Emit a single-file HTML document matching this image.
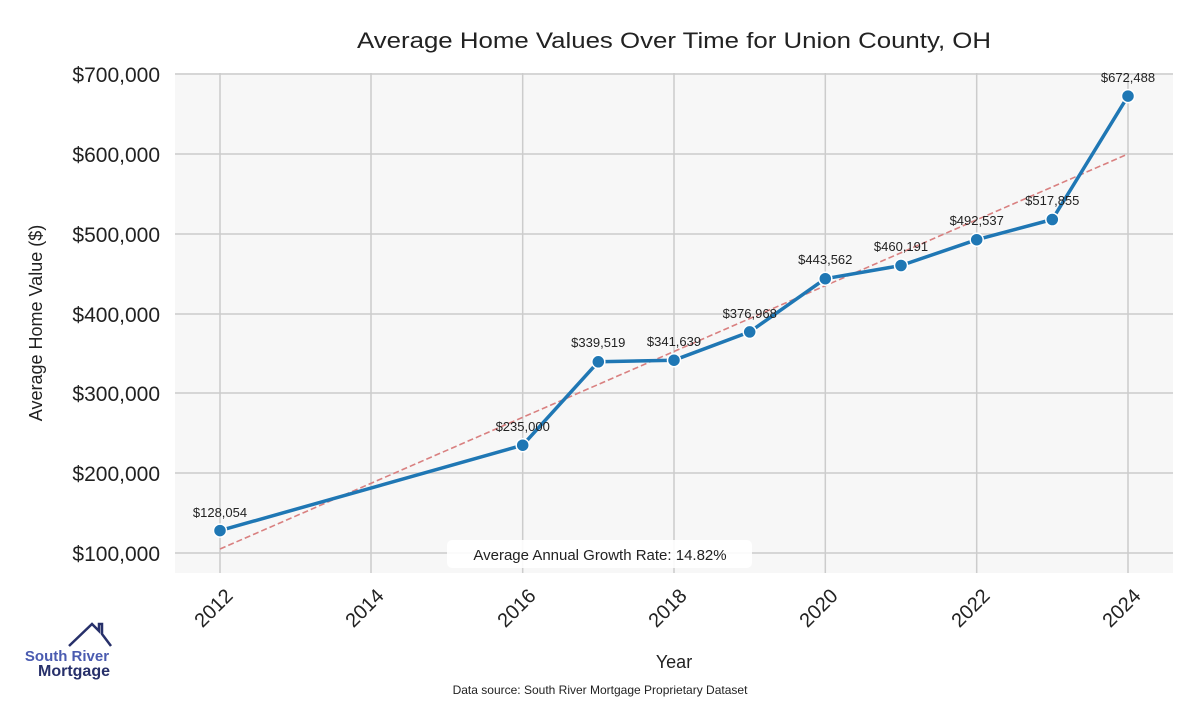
<!DOCTYPE html>
<html><head><meta charset="utf-8"><style>
body{margin:0;background:#fff;}
svg text{font-family:"Liberation Sans",sans-serif;}
</style></head><body>
<svg width="1200" height="700" xmlns="http://www.w3.org/2000/svg">
<rect x="175" y="73" width="998" height="500" fill="#f7f7f7"/>
<g stroke="#cccccc" stroke-width="1.5">
<line x1="175" x2="1173" y1="74" y2="74"/>
<line x1="175" x2="1173" y1="154" y2="154"/>
<line x1="175" x2="1173" y1="234" y2="234"/>
<line x1="175" x2="1173" y1="314" y2="314"/>
<line x1="175" x2="1173" y1="393" y2="393"/>
<line x1="175" x2="1173" y1="473" y2="473"/>
<line x1="175" x2="1173" y1="553" y2="553"/>
<line x1="220" x2="220" y1="73" y2="573"/>
<line x1="371" x2="371" y1="73" y2="573"/>
<line x1="522.7" x2="522.7" y1="73" y2="573"/>
<line x1="674" x2="674" y1="73" y2="573"/>
<line x1="825.3" x2="825.3" y1="73" y2="573"/>
<line x1="976.7" x2="976.7" y1="73" y2="573"/>
<line x1="1128" x2="1128" y1="73" y2="573"/>
</g>
<text x="674" y="48" text-anchor="middle" font-size="22" fill="#222" textLength="634" lengthAdjust="spacingAndGlyphs">Average Home Values Over Time for Union County, OH</text>
<g font-size="21" fill="#222" text-anchor="end">
<text x="160" y="82">$700,000</text>
<text x="160" y="162">$600,000</text>
<text x="160" y="242">$500,000</text>
<text x="160" y="322">$400,000</text>
<text x="160" y="401">$300,000</text>
<text x="160" y="481">$200,000</text>
<text x="160" y="561">$100,000</text>
</g>
<text transform="translate(42,323) rotate(-90)" text-anchor="middle" font-size="18" fill="#222">Average Home Value ($)</text>
<g font-size="20" fill="#222" text-anchor="end">
<text transform="translate(234,597) rotate(-45)">2012</text>
<text transform="translate(385,597) rotate(-45)">2014</text>
<text transform="translate(537,597) rotate(-45)">2016</text>
<text transform="translate(688,597) rotate(-45)">2018</text>
<text transform="translate(839,597) rotate(-45)">2020</text>
<text transform="translate(991,597) rotate(-45)">2022</text>
<text transform="translate(1142,597) rotate(-45)">2024</text>
</g>
<text x="674" y="668" text-anchor="middle" font-size="18" fill="#222">Year</text>
<text x="600" y="694" text-anchor="middle" font-size="12" fill="#222">Data source: South River Mortgage Proprietary Dataset</text>
<line x1="220" y1="549" x2="1128" y2="154" stroke="#d98080" stroke-width="1.6" stroke-dasharray="6,3"/>
<polyline fill="none" stroke="#1f77b4" stroke-width="3.5" stroke-linejoin="round" points="220,530.6 522.7,445.2 598.3,361.8 674,360.2 749.7,331.9 825.3,278.7 901,265.5 976.7,239.7 1052.3,219.5 1128,96.1"/>
<g fill="#1f77b4" stroke="#fff" stroke-width="1.5">
<circle cx="220" cy="530.6" r="6.5"/><circle cx="522.7" cy="445.2" r="6.5"/><circle cx="598.3" cy="361.8" r="6.5"/><circle cx="674" cy="360.2" r="6.5"/><circle cx="749.7" cy="331.9" r="6.5"/><circle cx="825.3" cy="278.7" r="6.5"/><circle cx="901" cy="265.5" r="6.5"/><circle cx="976.7" cy="239.7" r="6.5"/><circle cx="1052.3" cy="219.5" r="6.5"/><circle cx="1128" cy="96.1" r="6.5"/>
</g>
<g font-size="13" fill="#222" text-anchor="middle">
<text x="220" y="517">$128,054</text>
<text x="522.7" y="431">$235,000</text>
<text x="598.3" y="347">$339,519</text>
<text x="674" y="346">$341,639</text>
<text x="749.7" y="318">$376,968</text>
<text x="825.3" y="264">$443,562</text>
<text x="901" y="251">$460,191</text>
<text x="976.7" y="225">$492,537</text>
<text x="1052.3" y="205">$517,855</text>
<text x="1128" y="82">$672,488</text>
</g>
<rect x="447" y="540" width="305" height="28" rx="5" fill="#fff" opacity="0.9"/>
<text x="600" y="560" text-anchor="middle" font-size="15" fill="#222">Average Annual Growth Rate: 14.82%</text>
<polyline points="69,646 92,624 99,631 99,624 102,624 102,634 111,646" fill="none" stroke="#27306a" stroke-width="2.5"/>
<text x="67" y="661" text-anchor="middle" font-size="15" font-weight="bold" fill="#4a5bb0">South River</text>
<text x="74" y="676" text-anchor="middle" font-size="16" font-weight="bold" fill="#27306a">Mortgage</text>
</svg>
</body></html>
